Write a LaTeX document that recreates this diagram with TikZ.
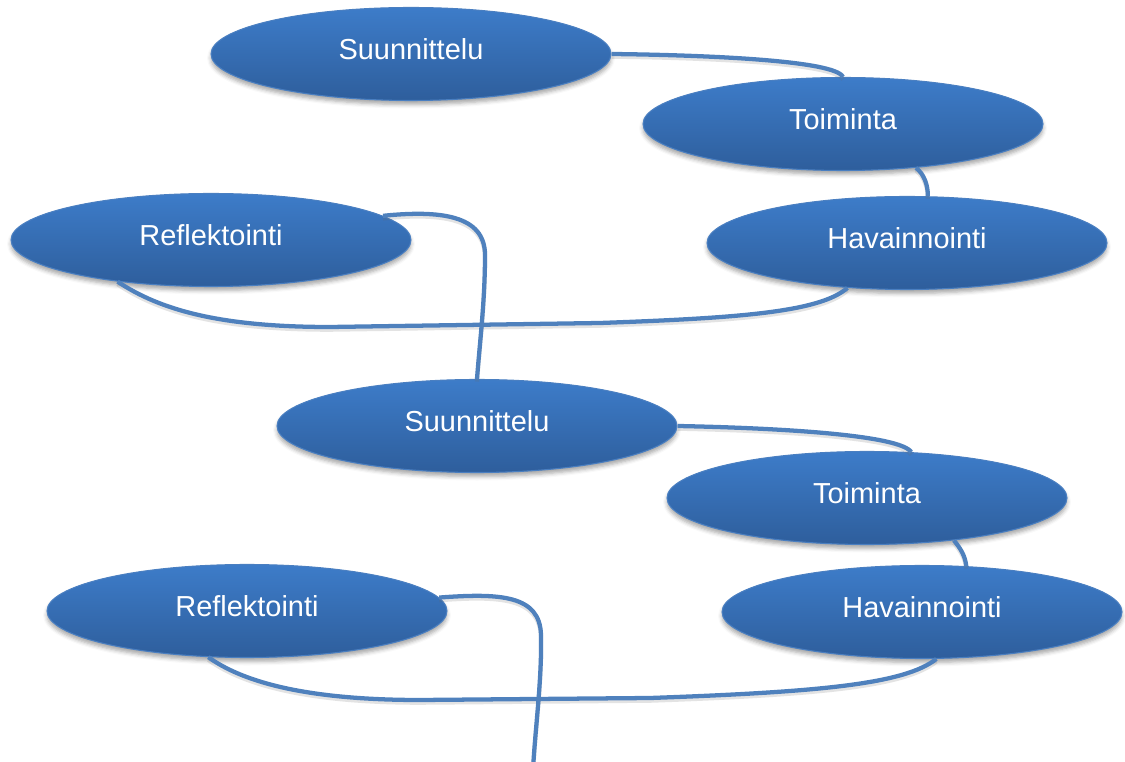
\documentclass[tikz,border=0pt]{standalone}
\usepackage{fontspec}
\setmainfont{Liberation Sans}
\usetikzlibrary{shapes.geometric,shadows.blur}
\definecolor{ellTop}{HTML}{3D7CC9}
\definecolor{ellBot}{HTML}{2E5E9C}
\definecolor{ellEdge}{HTML}{4A7FC1}
\definecolor{conn}{HTML}{4F81BD}
\begin{document}
\begin{tikzpicture}[x=0.75pt,y=-0.75pt,
  phase/.style={ellipse, minimum width=300pt, minimum height=69.75pt, inner sep=0pt,
    top color=ellTop, bottom color=ellBot, draw=ellEdge, line width=0.8pt,
    text=white, font=\fontsize{21.7}{26}\selectfont, text height=15.8pt, text depth=7pt,
    blur shadow={shadow xshift=0pt, shadow yshift=-3pt, shadow blur radius=3pt, shadow opacity=35}},
  link/.style={draw=conn, line width=3.2pt,
    preaction={draw=black!60, opacity=0.18, line width=3.2pt, transform canvas={yshift=-2pt}}}]
\useasboundingbox (0,0) rectangle (1125,762);
\clip (0,0) rectangle (1125,762);
\node[phase] (s1) at (411,54) {Suunnittelu};
\node[phase] (t1) at (843,124) {Toiminta};
\node[phase] (h1) at (907,243) {Havainnointi};
\node[phase] (r1) at (211,240) {Reflektointi};
\node[phase] (s2) at (477,426) {Suunnittelu};
\node[phase] (t2) at (867,498) {Toiminta};
\node[phase] (h2) at (922,612) {Havainnointi};
\node[phase] (r2) at (247,611) {Reflektointi};
\coordinate (out) at (533,770);
\path[link] (s1.east) .. controls (700,55) and (835,60) .. (t1.north);
\path[link] (t1.-31) .. controls (924,174) and (928,185) .. (h1.66);
\path[link] (h1.-143.5) .. controls (820,312) and (740,318) .. (600,323) -- (330,327) .. controls (220,327) and (160,310) .. (r1.-156);
\path[link] (r1.8.5) .. controls (440,210) and (485,215) .. (485,255) .. controls (485,300) and (480,340) .. (s2.north);
\path[link] (s2.east) .. controls (780,428) and (900,435) .. (t2.46.6);
\path[link] (t2.-26.3) .. controls (960,548) and (965,555) .. (h2.46.6);
\path[link] (h2.-73.2) .. controls (905,684) and (820,692) .. (650,698) -- (420,700) .. controls (300,700) and (240,680) .. (r2.-130.5);
\path[link] (r2.4.6) .. controls (500,593) and (540,595) .. (541,635) .. controls (542,680) and (535,730) .. (out);
\end{tikzpicture}
\end{document}
